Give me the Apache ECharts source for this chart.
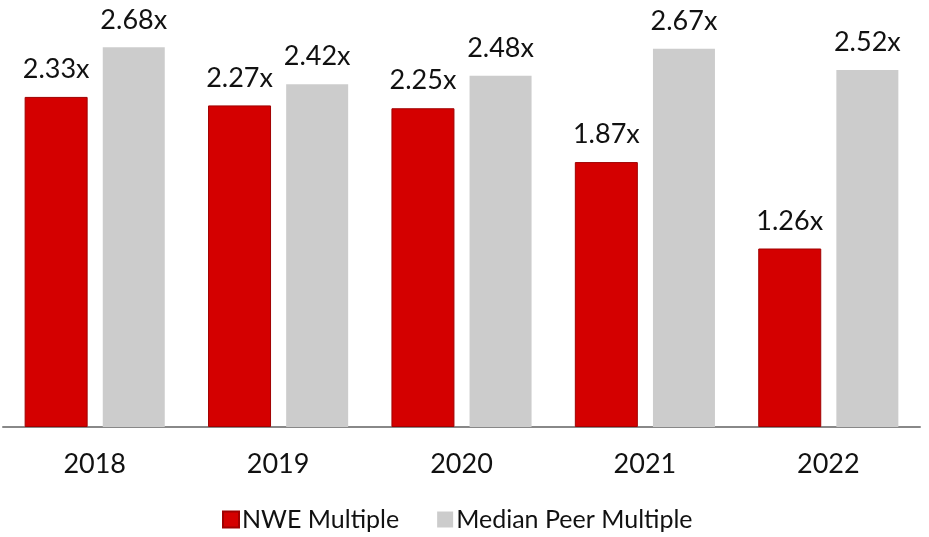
<!DOCTYPE html>
<html><head><meta charset="utf-8">
<script src="https://cdn.jsdelivr.net/npm/echarts@6/dist/echarts.min.js"></script>
<style>html,body{margin:0;padding:0;background:#fff}#c{width:929px;height:537px}</style>
</head><body><div id="c"></div>
<script>
var categories = ['2018','2019','2020','2021','2022'];
var nweMultiple = [2.33, 2.27, 2.25, 1.87, 1.26];
var peerMultiple = [2.68, 2.42, 2.48, 2.67, 2.52];
var seriesNames = ['NWE Multiple', 'Median Peer Multiple'];

var FONT = 'Lato';
var chart = echarts.init(document.getElementById('c'));
var lbl = {show:true, position:'top', distance:14, color:'#111', fontFamily:FONT, fontSize:27,
  formatter:function(p){return p.value.toFixed(2)+'x';}};
chart.setOption({
  animation:false,
  grid:{left:3, right:9, top:2, bottom:110},
  legend:{left:217, top:502, itemWidth:16, itemHeight:16, itemGap:38,
    icon:'rect', textStyle:{fontFamily:FONT, fontSize:25, color:'#111', padding:[0,0,0,-2]},
    data:seriesNames},
  xAxis:{type:'category', data:categories,
    axisLine:{lineStyle:{color:'#888', width:2}}, axisTick:{show:false},
    axisLabel:{color:'#111', fontFamily:FONT, fontSize:27, margin:24}},
  yAxis:{type:'value', min:0, max:3, show:false, splitLine:{show:false}},
  series:[
    {name:seriesNames[0], type:'bar', data:nweMultiple, barWidth:63, barGap:'24%',
      itemStyle:{color:'#d40000', borderColor:'#a00000', borderWidth:1}, label:lbl},
    {name:seriesNames[1], type:'bar', data:peerMultiple, barWidth:62,
      itemStyle:{color:'#cccccc'}, label:lbl}
  ]
});
</script></body></html>
